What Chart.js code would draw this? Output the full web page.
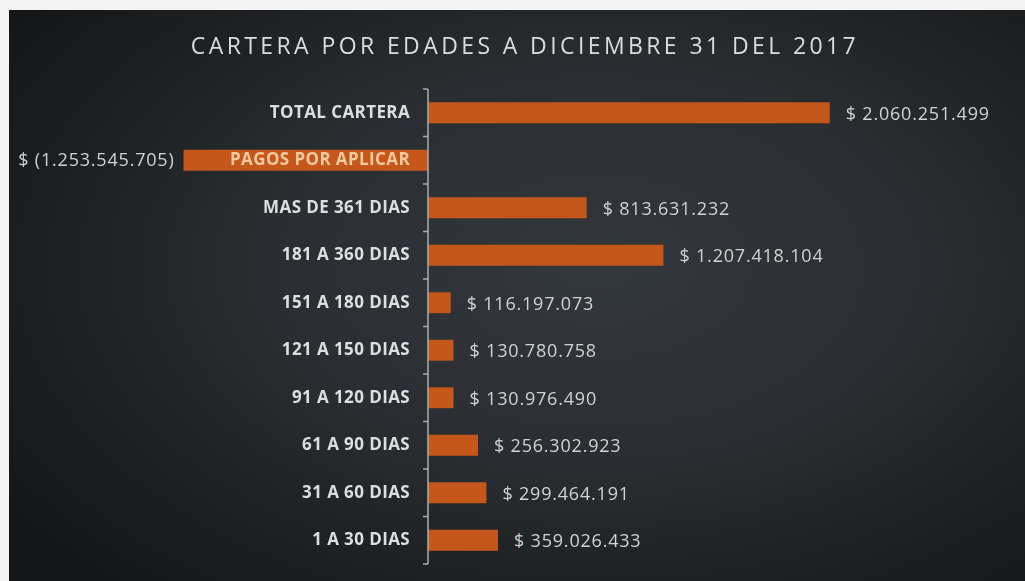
<!DOCTYPE html>
<html lang="es">
<head>
    <meta charset="UTF-8">
    <title>Cartera por edades</title>
    <script src="https://cdn.jsdelivr.net/npm/chart.js"></script>
    <style>
        html, body {
            margin: 0;
            padding: 0;
            background: #f4f4f4;
            width: 1025px;
            height: 581px;
            overflow: hidden;
        }
        .slide {
            position: absolute;
            left: 9px;
            top: 10px;
            width: 1016px;
            height: 571px;
            background: radial-gradient(ellipse 70% 75% at 58% 45%, #33383d 0%, #2a2e32 45%, #1c1e20 80%, #151617 100%);
        }
        #chart {
            position: absolute;
            left: 0;
            top: 0;
        }
    </style>
</head>
<body>
    <div class="slide"></div>
    <canvas id="chart" width="1025" height="581"></canvas>
    <script>
        const titleText = 'CARTERA POR EDADES A DICIEMBRE 31 DEL 2017';
        const categories = [
            'TOTAL CARTERA',
            'PAGOS POR APLICAR',
            'MAS DE 361 DIAS',
            '181 A 360 DIAS',
            '151 A 180 DIAS',
            '121 A 150 DIAS',
            '91 A 120 DIAS',
            '61 A 90 DIAS',
            '31 A 60 DIAS',
            '1 A 30 DIAS'
        ];
        const values = [
            2060251499,
            -1253545705,
            813631232,
            1207418104,
            116197073,
            130780758,
            130976490,
            256302923,
            299464191,
            359026433
        ];

        const barColor = '#c5571b';
        const textColor = '#dcdfe2';
        const negLabelColor = '#f6caa0';
        const axisColor = '#a9adb1';
        // labels sit a little left of the zero line
        const labelGap = 92000000;

        function money(v) {
            const s = Math.abs(v).toString().replace(/\B(?=(\d{3})+(?!\d))/g, '.');
            return v < 0 ? '$ (' + s + ')' : '$ ' + s;
        }

        // title with letter spacing (canvas title plugin has no letterSpacing option)
        const spacedTitle = {
            id: 'spacedTitle',
            afterDraw(chart) {
                const ctx = chart.ctx;
                ctx.save();
                ctx.font = '400 23px "Open Sans"';
                ctx.letterSpacing = '3.4px';
                ctx.fillStyle = '#dadde0';
                ctx.textAlign = 'center';
                ctx.textBaseline = 'middle';
                ctx.fillText(titleText, 525, 47);
                ctx.restore();
            }
        };

        // value labels at the end of each bar, then widen the y tick labels a bit
        const valueLabels = {
            id: 'valueLabels',
            afterDatasetsDraw(chart) {
                const ctx = chart.ctx;
                const meta = chart.getDatasetMeta(0);
                ctx.save();
                ctx.font = '400 18px "Open Sans"';
                ctx.letterSpacing = '0.8px';
                ctx.fillStyle = '#cfd3d6';
                ctx.textBaseline = 'middle';
                meta.data.forEach((bar, i) => {
                    const v = values[i];
                    if (v < 0) {
                        ctx.textAlign = 'right';
                        ctx.fillText(money(v), bar.x - 9, bar.y + 1);
                    } else {
                        ctx.textAlign = 'left';
                        ctx.fillText(money(v), bar.x + 16, bar.y + 2);
                    }
                });
                ctx.restore();
                ctx.letterSpacing = '0.4px';
            },
            afterDraw(chart) {
                const ctx = chart.ctx;
                ctx.letterSpacing = '0px';
                // zero line with small tick marks on its left, between categories
                const y = chart.scales.y;
                const x0 = chart.scales.x.getPixelForValue(0);
                ctx.save();
                ctx.strokeStyle = axisColor;
                ctx.lineWidth = 1.5;
                ctx.beginPath();
                ctx.moveTo(x0, y.top);
                ctx.lineTo(x0, y.bottom);
                for (let i = 0; i <= categories.length; i++) {
                    const py = y.getPixelForValue(i - 0.5);
                    ctx.moveTo(x0 - 5, py);
                    ctx.lineTo(x0, py);
                }
                ctx.stroke();
                ctx.restore();
            }
        };

        new Chart(document.getElementById('chart'), {
            type: 'bar',
            data: {
                labels: categories,
                datasets: [{
                    data: values,
                    backgroundColor: barColor,
                    barPercentage: 0.44,
                    categoryPercentage: 1
                }]
            },
            options: {
                indexAxis: 'y',
                responsive: false,
                animation: false,
                layout: {
                    padding: { left: 155, right: 12, top: 89, bottom: 17 }
                },
                plugins: {
                    legend: { display: false },
                    title: { display: false },
                    tooltip: { enabled: false }
                },
                scales: {
                    x: {
                        display: false,
                        min: -1400000000,
                        max: 3000000000
                    },
                    y: {
                        position: { x: -labelGap },
                        grid: {
                            display: false
                        },
                        border: { display: false },
                        ticks: {
                            z: 1,
                            font: { family: 'Open Sans', size: 17, weight: 'bold' },
                            color: ctx => ctx.index === 1 ? negLabelColor : textColor
                        }
                    }
                }
            },
            plugins: [spacedTitle, valueLabels]
        });
    </script>
</body>
</html>
